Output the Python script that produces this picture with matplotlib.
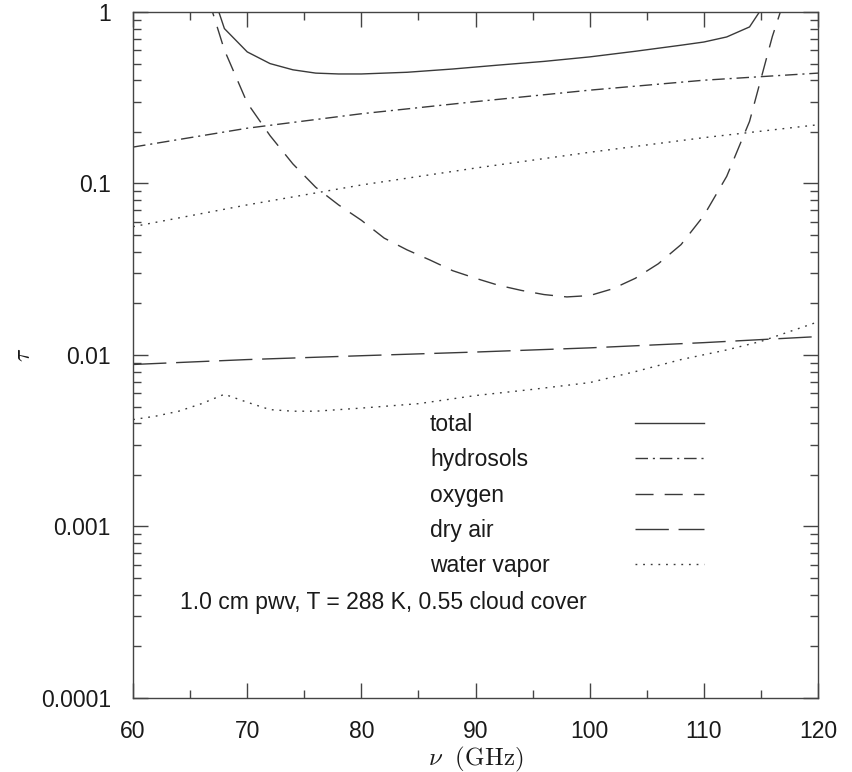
import matplotlib
matplotlib.use("Agg")
import matplotlib.pyplot as plt
from matplotlib.ticker import FixedLocator, FixedFormatter, LogLocator, NullFormatter

# values (nu in GHz, tau dimensionless)
total_nu = [66, 68, 70, 72, 74, 76, 78, 80, 84, 88, 92, 96, 100, 104, 108, 110, 112, 114, 116]
total_tau = [2.0, 0.80, 0.585, 0.50, 0.46, 0.44, 0.435, 0.435, 0.445, 0.465, 0.49,
             0.515, 0.547, 0.59, 0.64, 0.668, 0.715, 0.818, 1.3]

hydro_nu = [60, 70, 80, 90, 100, 110, 120]
hydro_tau = [0.163, 0.21, 0.255, 0.30, 0.35, 0.40, 0.44]

oxygen_nu = [66, 68, 70, 72, 74, 76, 78, 80, 82, 84, 86, 88, 90, 92, 94, 96, 98,
             100, 102, 104, 106, 108, 110, 112, 114, 116, 118]
oxygen_tau = [1.6, 0.6, 0.295, 0.19, 0.13, 0.095, 0.075, 0.061, 0.048, 0.041, 0.0358,
              0.031, 0.028, 0.0255, 0.0238, 0.0225, 0.0218, 0.0222, 0.0243, 0.028,
              0.034, 0.044, 0.065, 0.11, 0.23, 0.72, 1.84]

dryair_nu = [60, 70, 80, 90, 100, 110, 120]
dryair_tau = [0.0088, 0.0094, 0.0099, 0.0104, 0.011, 0.0118, 0.0128]

vapor_nu = [60, 70, 80, 90, 100, 110, 120]
vapor_tau = [0.056, 0.075, 0.098, 0.123, 0.152, 0.185, 0.22]

vapor2_nu = [60, 62, 64, 66, 68, 70, 72, 74, 76, 80, 85, 90, 95, 100, 104, 108, 112, 115, 120]
vapor2_tau = [0.0042, 0.0044, 0.0047, 0.0052, 0.0059, 0.0053, 0.0048, 0.0047, 0.0047,
              0.0049, 0.0052, 0.0058, 0.0063, 0.0069, 0.0080, 0.0094, 0.0107, 0.0120, 0.0156]

ytick_vals = [1e-4, 1e-3, 1e-2, 1e-1, 1]
ytick_labels = ["0.0001", "0.001", "0.01", "0.1", "1"]

plt.rcParams["font.family"] = ["Liberation Sans", "DejaVu Sans"]
plt.rcParams["mathtext.fontset"] = "cm"

line_col = "#3a3a3a"
txt_col = "#1a1a1a"
fs = 16.5

fig = plt.figure(figsize=(8.53, 7.72), dpi=100)
ax = fig.add_axes([0.156, 0.0959, 0.803, 0.8886])

handles = []
handles += ax.plot(total_nu, total_tau, color=line_col, lw=1.0, label="total")
handles += ax.plot(hydro_nu, hydro_tau, color=line_col, lw=1.0, dashes=(9, 3.5, 1.5, 3.5), label="hydrosols")
handles += ax.plot(oxygen_nu, oxygen_tau, color=line_col, lw=1.0, dashes=(13, 8), label="oxygen")
handles += ax.plot(dryair_nu, dryair_tau, color=line_col, lw=1.0, dashes=(24, 7), label="dry air")
handles += ax.plot(vapor_nu, vapor_tau, color=line_col, lw=1.0, dashes=(1.3, 4.2), label="water vapor")
ax.plot(vapor2_nu, vapor2_tau, color=line_col, lw=1.0, dashes=(1.3, 4.2))

ax.set_yscale("log")
ax.set_xlim(60, 120)
ax.set_ylim(1e-4, 1)

ax.yaxis.set_major_locator(FixedLocator(ytick_vals))
ax.yaxis.set_major_formatter(FixedFormatter(ytick_labels))
ax.yaxis.set_minor_locator(LogLocator(base=10, subs=range(2, 10)))
ax.yaxis.set_minor_formatter(NullFormatter())
ax.set_xticks([60, 70, 80, 90, 100, 110, 120])
ax.set_xticks([65, 75, 85, 95, 105, 115], minor=True)

ax.tick_params(which="both", direction="in", top=True, right=True,
               color="#444444", width=1.0, labelsize=fs, labelcolor=txt_col)
ax.tick_params(which="major", length=10.5, pad=16)
ax.tick_params(which="minor", length=5.5)
for sp in ax.spines.values():
    sp.set_color("#444444")
    sp.set_linewidth(1.0)

ax.set_xlabel(r"$\nu\ \ \mathrm{(GHz)}$", fontsize=18, labelpad=1, color=txt_col)
ax.set_ylabel(r"$\tau$", fontsize=17, labelpad=4, color=txt_col)

# legend: labels left-aligned in one block, line samples in another
labels = [h.get_label() for h in handles]
leg_text = ax.legend(handles, labels, loc="upper left", bbox_to_anchor=(0.4336, 0.415),
                     frameon=False, fontsize=fs, handlelength=0, handletextpad=0,
                     labelspacing=0.53, borderpad=0, borderaxespad=0, labelcolor=txt_col)
ax.add_artist(leg_text)
ax.legend(handles, [" "] * len(handles), loc="upper left", bbox_to_anchor=(0.7328, 0.415),
          frameon=False, fontsize=fs, handlelength=3.0, handletextpad=0.2,
          labelspacing=0.53, borderpad=0, borderaxespad=0)

ax.text(0.0686, 0.1385, "1.0 cm pwv, T = 288 K, 0.55 cloud cover", transform=ax.transAxes,
        fontsize=fs, va="center", ha="left", color=txt_col)

fig.savefig("out.png", dpi=100)
